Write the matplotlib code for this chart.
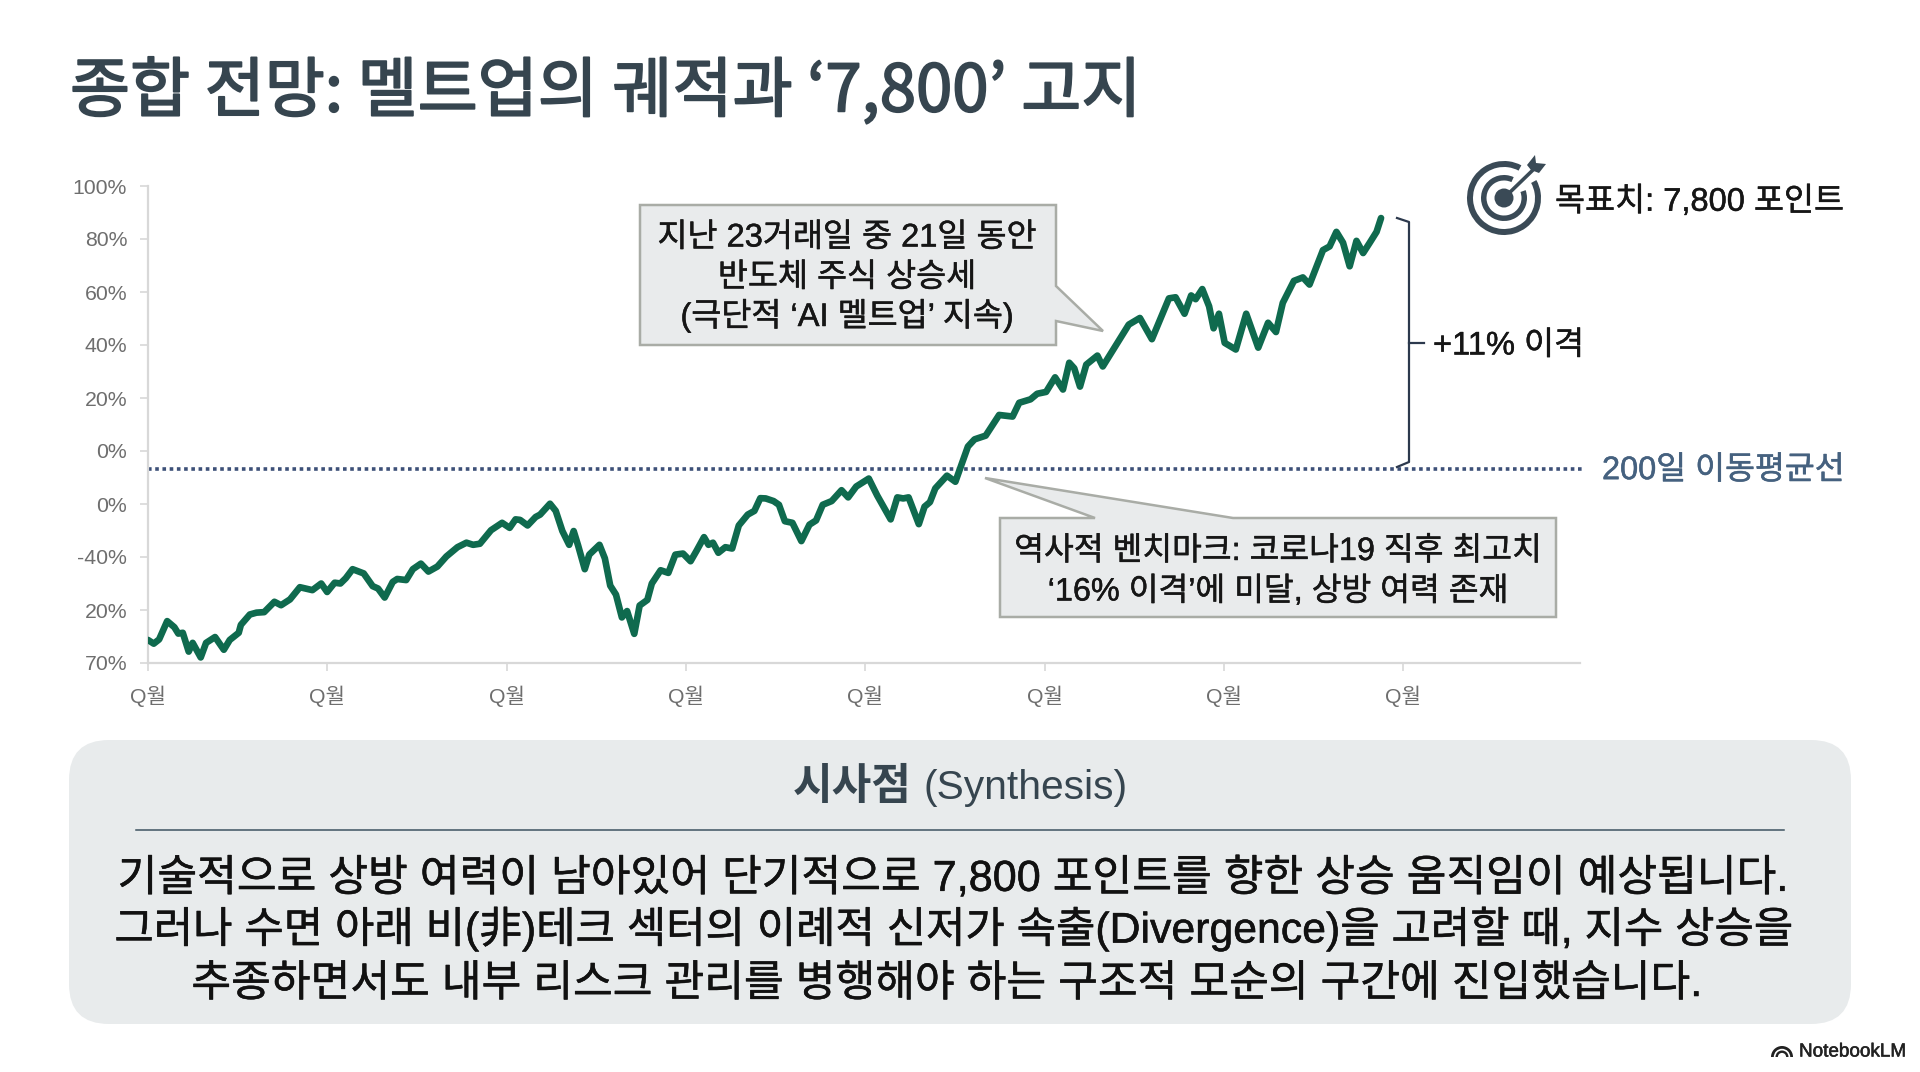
import matplotlib
matplotlib.use("Agg")
import matplotlib.pyplot as plt
import matplotlib.patheffects as pe
from matplotlib.patches import FancyBboxPatch, Polygon, Wedge, Circle

FONT = ['Liberation Sans', 'Noto Sans CJK KR', 'DejaVu Sans']
plt.rcParams['font.family'] = FONT

TITLE = "종합 전망: 멜트업의 궤적과 ‘7,800’ 고지"
Y_TICKS = [100, 80, 60, 40, 20, 0, -20, -40, -60, -80]
Y_LABELS = ["100%", "80%", "60%", "40%", "20%", "0%", "0%", "-40%", "20%", "70%"]
X_TICKS = [0, 100, 200, 300, 400, 500, 600, 700]
X_LABELS = ["Q월"] * 8
MA_LEVEL = -6.8

session = [0, 3.2, 6.2, 10.7, 14.7, 16.9, 19.4, 22.7, 24.9, 29.4, 32.4, 37.4, 42.3, 45.6, 50.6, 51.8,
           56.8, 60.5, 64.8, 70.5, 74.2, 79.2, 84.7, 91.7, 96.6, 99.9, 104.1, 107.3, 110.3, 114.1,
           120.3, 125.3, 128.3, 132, 136.5, 139, 144, 147.7, 152.2, 156.4, 161.4, 166.4, 172.6,
           177.6, 181.3, 185.1, 191.3, 197.5, 201.7, 205, 207.5, 211.7, 216.2, 218.7, 224.2, 227.4,
           231.1, 234.9, 237.4, 239.9, 243.6, 246.1, 251.8, 254.8, 257.8, 261, 264.3, 267.2, 271.2,
           274.2, 278.5, 281, 285.9, 290.2, 294.1, 298.4, 302.6, 305.9, 310.1, 312.6, 315.1, 318.1,
           322, 325.8, 329.5, 334.5, 338.2, 341.5,
           344.5, 348.9, 351.9, 355.2, 359.4, 364.4, 368.9, 372.6, 376.3, 381.3, 386.8, 390.5, 395,
           402, 406.7, 414.2, 417.9, 421.2, 424.2, 429.9, 433.1, 436.1, 439.1, 445.6, 450.3, 457.3,
           461, 467.2, 474.7, 482.2, 485.9, 492.2, 495.9, 500.9, 505.9, 510.3, 513.8, 516.6, 519.8,
           523.3, 529.5, 532.5, 538.2, 547, 553.2, 559.9, 569.4, 573.1, 578.1, 581.8, 584.3, 588,
           591.8, 594.3, 597.3, 600.5, 606.7, 612.5, 619.2, 624.7, 629.1, 632.9, 639.1, 644.1,
           647.8, 655.3, 659, 662.8, 666.5, 670.2, 674, 677.7, 681.4, 685.2, 687.7]
gap_pct = [-71.3, -72.7, -71.1, -64.2, -66.5, -68.9, -68.6, -75.7, -72.4, -77.9, -72.4, -70.2, -75, -71.3,
           -68.6, -65.6, -61.7, -61, -60.8, -56.9, -58.2, -56, -51.4, -52.5, -50, -53.2, -49.7, -50, -48,
           -44.6, -46.2, -51, -51.9, -55.3, -49.4, -48.3, -48.7, -44.6, -42.5, -45.5, -43.6, -39.8, -36.3,
           -34.6, -35.4, -35, -29.9, -27.1, -29, -25.8, -26, -28.1, -24.9, -24, -19.9, -22.6, -30.2, -35.4,
           -30.2, -35.7, -44.6, -39.1, -35.4, -40.5, -50.8, -54.2, -62.8, -60.4, -69, -58.3, -56.2, -50,
           -45, -46, -39.1, -38.7, -41.6, -37.7, -32.5, -35.4, -34.6, -38.4, -36.3, -36.8, -28.1, -24,
           -22.6, -17.8,
           -17.9, -18.9, -20.3, -26.5, -27.1, -34, -27.8, -26.2, -20.3, -18.9, -14.8, -17.5, -13.4, -10.4,
           -16.8, -25.8, -17.5, -17.9, -17.5, -27.6, -21, -19.3, -14.1, -9.3, -11.6, 1.7, 4.4, 5.8, 13.6,
           13, 18.2, 19.5, 21.6, 22.3, 27.8, 23.2, 33.3, 31.2, 24.3, 32.6, 36, 31.9, 38.1, 47.7, 50.2,
           42.2, 57.6, 58, 51.8, 58.7, 57.3, 61.1, 54.6, 46.3, 51.8, 40.8, 38.3, 51.8, 39, 48.4, 44.9,
           55.9, 64.2, 65.5, 62.8, 75.8, 77.2, 82.7, 78.6, 69.7, 79.3, 74.7, 78.6, 82.7, 87.9]

W, H = 1920, 1072
fig = plt.figure(figsize=(W / 100, H / 100), dpi=100, facecolor='white')


def heavier(width, color):
    return [pe.withStroke(linewidth=width, foreground=color)]


# main chart
L, R, T, B = 148, 1580, 186, 663
ax = fig.add_axes([L / W, 1 - B / H, (R - L) / W, (B - T) / H])
xmax = (R - L) / 1.793
ax.set_xlim(0, xmax)
ax.set_ylim(-80, 100)
for s in ('top', 'right'):
    ax.spines[s].set_visible(False)
for s in ('left', 'bottom'):
    ax.spines[s].set_color('#d8d8d8')
    ax.spines[s].set_linewidth(1.6)
ax.set_yticks(Y_TICKS, Y_LABELS)
ax.set_xticks(X_TICKS, X_LABELS)
ax.tick_params(axis='y', length=6, width=1.2, color='#d8d8d8', labelcolor='#6e6e6e', labelsize=15.3, pad=9)
ax.tick_params(axis='x', length=6, width=1.2, color='#d8d8d8', labelcolor='#6e6e6e', labelsize=15.3, pad=10)
ax.hlines(MA_LEVEL, 0, xmax + 2, color='#3d5078', lw=2.6, ls=(0, (1, 1)), clip_on=False, zorder=2)
ax.plot(session, gap_pct, color='#0f6a4e', lw=4.8, solid_joinstyle='round', solid_capstyle='round', zorder=3)

# overlay in pixel coordinates
ov = fig.add_axes([0, 0, 1, 1], facecolor='none')
ov.set_xlim(0, W)
ov.set_ylim(H, 0)
ov.axis('off')

DARK = '#36454f'
ov.text(70, 93, TITLE, fontsize=47, family=['Noto Sans CJK KR', 'Liberation Sans'], color=DARK,
        ha='left', va='center', path_effects=heavier(1.3, DARK))

# callouts
FILL, EDGE = '#e9ebec', '#a9aca6'
INK = '#161616'
ov.add_patch(Polygon([(640, 205), (1056, 205), (1056, 286), (1103, 331), (1056, 321), (1056, 345), (640, 345)],
                     closed=True, fc=FILL, ec=EDGE, lw=1.8, zorder=5))
for y, s in zip((238, 278, 316), ("지난 23거래일 중 21일 동안", "반도체 주식 상승세", "(극단적 ‘AI 멜트업’ 지속)")):
    ov.text(847, y, s, fontsize=23.5, color=INK, ha='center', va='center', zorder=6,
            path_effects=heavier(0.35, INK))

ov.add_patch(Polygon([(1000, 518), (1095, 518), (985, 478), (1233, 518), (1556, 518), (1556, 617), (1000, 617)],
                     closed=True, fc=FILL, ec=EDGE, lw=1.8, zorder=5))
for y, s in zip((552, 592), ("역사적 벤치마크: 코로나19 직후 최고치", "‘16% 이격’에 미달, 상방 여력 존재")):
    ov.text(1278, y, s, fontsize=23.3, color=INK, ha='center', va='center', zorder=6,
            path_effects=heavier(0.35, INK))

# bracket
ov.plot([1397, 1409, 1409, 1397], [218, 222, 462, 467], color='#2c394d', lw=1.6)
ov.plot([1409, 1424], [343, 343], color='#2c394d', lw=1.6)
ov.text(1433, 346, "+11% 이격", fontsize=23.5, color=INK, ha='left', va='center', path_effects=heavier(0.35, INK))
ov.text(1602, 471, "200일 이동평균선", fontsize=23.4, color='#45617f', ha='left', va='center',
        path_effects=heavier(0.35, '#45617f'))

# target icon
IC = '#3a4a56'
c = (1504, 198)
ov.add_patch(Wedge(c, 37, -29, 298, width=6, fc=IC, ec='none'))
ov.add_patch(Wedge(c, 23, -20, 295, width=5.5, fc=IC, ec='none'))
ov.add_patch(Circle(c, 9.5, fc=IC, ec='none'))
ov.plot([1504, 1535], [198, 168], color=IC, lw=2.6, solid_capstyle='butt')
ov.add_patch(Polygon([(1527, 165), (1535, 155), (1536, 163), (1546, 164), (1539, 173), (1531, 170)], fc=IC, ec='none'))
ov.text(1555, 202, "목표치: 7,800 포인트", fontsize=23.5, color=INK, ha='left', va='center',
        path_effects=heavier(0.35, INK))

# synthesis panel
ov.add_patch(FancyBboxPatch((69 + 40, 740 + 40), 1782 - 80, 284 - 80, boxstyle="round,pad=40,rounding_size=40",
                            fc='#e8ebec', ec='none', zorder=1))
ov.text(912, 788, "시사점", fontsize=31, weight='bold', color=DARK, ha='right', va='center', zorder=2)
ov.text(924, 788, "(Synthesis)", fontsize=29.3, color=DARK, ha='left', va='center', zorder=2)
ov.plot([136, 1784], [830, 830], color='#3e5361', lw=1.1, zorder=2)
BODY = ["기술적으로 상방 여력이 남아있어 단기적으로 7,800 포인트를 향한 상승 움직임이 예상됩니다.",
        "그러나 수면 아래 비(非)테크 섹터의 이례적 신저가 속출(Divergence)을 고려할 때, 지수 상승을",
        "추종하면서도 내부 리스크 관리를 병행해야 하는 구조적 모순의 구간에 진입했습니다."]
for y, s, fs, xc in zip((879, 929, 985), BODY, (31.1, 30.8, 31.1), (953, 954, 947)):
    ov.text(xc, y, s, fontsize=fs, color='#111111', ha='center', va='center', zorder=2,
            path_effects=heavier(0.4, '#111111'))

# brand mark
m = (1782, 1057)
for r, w in ((11, 2.8), (6.5, 2.4)):
    ov.add_patch(Wedge(m, r, 180, 360, width=w, fc='#222222', ec='none'))
ov.text(1799, 1052, "NotebookLM", fontsize=13.6, color='#222222', ha='left', va='center',
        path_effects=heavier(0.4, '#222222'))

fig.savefig("out.png", dpi=100, facecolor='white')
